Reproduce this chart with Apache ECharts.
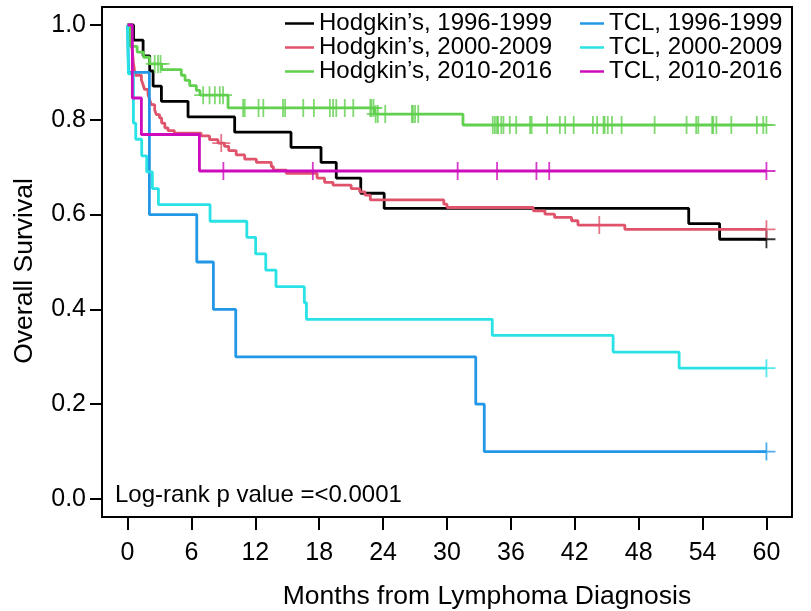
<!DOCTYPE html>
<html>
<head>
<meta charset="utf-8">
<script src="https://cdn.jsdelivr.net/npm/echarts@6/dist/echarts.min.js"></script>
<style>
  html, body { margin: 0; padding: 0; background: #fff; }
  #main { width: 811px; height: 611px; }
</style>
</head>
<body>
<div id="main"></div>
<script>
// Kaplan-Meier curves: months, survival, censor times
var hodg9699Months = [0, 0.56, 1.46, 2.08, 2.4, 3.18, 5.68, 10.06, 15.35, 18.17, 19.6, 21.9, 24.1, 52.7, 55.6, 60];
var hodg9699Surv   = [1, 0.968, 0.935, 0.903, 0.871, 0.839, 0.806, 0.774, 0.742, 0.710, 0.677, 0.645, 0.613, 0.581, 0.548, 0.548];
var hodg9699Censor = [60];

var hodg0009Months = [0, 0.35, 0.45, 0.55, 0.65, 0.75, 1.3, 1.46, 1.6, 1.92, 2.08, 2.24, 2.55, 2.7, 3.0, 3.2, 3.5, 3.8, 4.4,
                      6.9, 7.7, 8.5, 9.1, 9.5, 10.2, 11.0, 12.1, 13.5, 13.7, 14.9, 17.8, 18.5, 19.3, 21.0, 21.8, 22.3, 22.8,
                      29.7, 30.0, 38.1, 39.2, 40.1, 41.7, 42.3, 46.7, 60];
var hodg0009Surv   = [1, 0.97, 0.945, 0.92, 0.905, 0.894, 0.884, 0.874, 0.864, 0.853, 0.842, 0.832, 0.821, 0.811, 0.804, 0.793, 0.783, 0.777, 0.772,
                      0.766, 0.758, 0.751, 0.744, 0.735, 0.726, 0.717, 0.710, 0.701, 0.694, 0.687, 0.677, 0.668, 0.662, 0.655, 0.648, 0.641, 0.631,
                      0.622, 0.615, 0.608, 0.601, 0.594, 0.587, 0.578, 0.569, 0.569];
var hodg0009Censor = [8.8, 44.3, 60];

var hodg1016Months = [0, 0.23, 0.9, 1.5, 2.08, 3.2, 5.05, 5.4, 5.84, 6.46, 6.8, 9.44, 23.2, 31.5, 60];
var hodg1016Surv   = [1, 0.955, 0.943, 0.932, 0.918, 0.906, 0.894, 0.883, 0.872, 0.862, 0.852, 0.825, 0.812, 0.789, 0.789];
var hodg1016Censor = [2.55, 2.86, 3.1, 7.1, 7.7, 8.2, 8.66, 8.97, 10.85, 11.0, 12.3, 12.75, 14.6, 14.8, 16.5, 17.5,
                      19.0, 19.3, 19.6, 20.4, 21.2, 22.8, 22.9, 23.1, 23.3, 23.5, 24.2, 26.7, 26.8, 27.0, 27.3,
                      34.3, 34.5, 34.7, 34.8, 35.1, 35.3, 35.9, 36.5, 37.8, 37.95, 39.4, 40.6, 41.1, 41.9, 43.7, 44.1,
                      44.7, 44.8, 45.1, 45.5, 46.4, 49.5, 52.5, 53.4, 53.6, 54.9, 55.0, 55.3, 56.7, 59.1, 59.7, 60];

var tcl9699Months = [0, 0.1, 2.05, 6.5, 8.06, 10.16, 32.7, 33.5, 60];
var tcl9699Surv   = [1, 0.9, 0.6, 0.5, 0.4, 0.3, 0.2, 0.1, 0.1];
var tcl9699Censor = [60];

var tcl0009Months = [0, 0.08, 0.55, 0.77, 1.33, 1.8, 2.33, 2.9, 7.75, 11.2, 12.03, 12.98, 13.94, 16.6, 16.8, 34.25, 45.6, 51.8, 60];
var tcl0009Surv   = [1, 0.897, 0.793, 0.759, 0.724, 0.690, 0.655, 0.621, 0.586, 0.552, 0.517, 0.483, 0.448, 0.414, 0.379, 0.345, 0.310, 0.276, 0.276];
var tcl0009Censor = [60];

var tcl1016Months = [0, 0.45, 1.3, 6.75, 60];
var tcl1016Surv   = [1, 0.846, 0.769, 0.692, 0.692];
var tcl1016Censor = [9.0, 17.4, 31.0, 34.7, 38.4, 39.6, 60];

var groupNames = ['Hodgkin\u2019s, 1996-1999', 'Hodgkin\u2019s, 2000-2009', 'Hodgkin\u2019s, 2010-2016',
                  'TCL, 1996-1999', 'TCL, 2000-2009', 'TCL, 2010-2016'];
var groupColors = ['#000000', '#DF536B', '#61D04F', '#2297E6', '#28E2E5', '#CD0BBC'];

var xTicks = [0, 6, 12, 18, 24, 30, 36, 42, 48, 54, 60];
var yTicks = [0, 0.2, 0.4, 0.6, 0.8, 1.0];

var FONT = 'Liberation Sans, Arial, Helvetica, sans-serif';
var PLUS = 'path://M9,0 h2 v9 h9 v2 h-9 v9 h-2 v-9 h-9 v-2 h9 z';

var groups = [
    [hodg9699Months, hodg9699Surv, hodg9699Censor],
    [hodg0009Months, hodg0009Surv, hodg0009Censor],
    [hodg1016Months, hodg1016Surv, hodg1016Censor],
    [tcl9699Months, tcl9699Surv, tcl9699Censor],
    [tcl0009Months, tcl0009Surv, tcl0009Censor],
    [tcl1016Months, tcl1016Surv, tcl1016Censor]
];

// survival value of a step curve at time x
function survAt(months, surv, x) {
    var v = surv[0];
    for (var i = 0; i < months.length; i++) {
        if (months[i] <= x) v = surv[i];
    }
    return v;
}

var series = [];
groups.forEach(function (g, k) {
    var color = groupColors[k];
    series.push({
        name: groupNames[k],
        type: 'line',
        step: 'end',
        color: color,
        showSymbol: false,
        symbol: 'none',
        lineStyle: { color: color, width: 2.8 },
        data: g[0].map(function (m, i) { return [m, g[1][i]]; }),
        z: 2 + k
    });
    series.push({
        name: groupNames[k] + ' censored',
        type: 'scatter',
        symbol: PLUS,
        symbolSize: 18,
        itemStyle: { color: color },
        silent: true,
        data: g[2].map(function (c) { return [c, survAt(g[0], g[1], c)]; }),
        z: 2 + k
    });
});

var legendBase = {
    orient: 'vertical',
    top: 11.5,
    padding: 0,
    itemGap: 0,
    icon: 'rect',
    itemHeight: 2.5,
    selectedMode: false,
    textStyle: { fontSize: 24, lineHeight: 23.3, color: '#000', fontFamily: FONT }
};

var myChart = echarts.init(document.getElementById('main'));
var option = {
    animation: false,
    backgroundColor: '#fff',
    grid: {
        left: 102,
        top: 7,
        width: 690,
        height: 510,
        show: true,
        borderColor: '#000',
        borderWidth: 2
    },
    legend: [
        Object.assign({}, legendBase, { left: 285, itemWidth: 29, data: groupNames.slice(0, 3) }),
        Object.assign({}, legendBase, { left: 580, itemWidth: 24, data: groupNames.slice(3) })
    ],
    xAxis: {
        type: 'value',
        min: -2.4,
        max: 62.4,
        axisLine: { show: false, onZero: false },
        splitLine: { show: false },
        axisTick: { show: true, customValues: xTicks, length: 13, lineStyle: { color: '#000', width: 2 } },
        axisLabel: { customValues: xTicks, fontSize: 25, color: '#000', margin: 24, fontFamily: FONT }
    },
    yAxis: {
        type: 'value',
        min: -0.038,
        max: 1.038,
        axisLine: { show: false, onZero: false },
        splitLine: { show: false },
        axisTick: { show: true, customValues: yTicks, length: 12, lineStyle: { color: '#000', width: 2 } },
        axisLabel: {
            customValues: yTicks, fontSize: 25, color: '#000', margin: 16, fontFamily: FONT,
            formatter: function (v) { return v.toFixed(1); }
        }
    },
    graphic: [
        {
            type: 'text', x: 487, y: 597,
            style: { text: 'Months from Lymphoma Diagnosis', fill: '#000', font: '26.5px ' + FONT,
                     textAlign: 'center', textVerticalAlign: 'middle', align: 'center', verticalAlign: 'middle' }
        },
        {
            type: 'text', x: 25, y: 271, rotation: Math.PI / 2,
            style: { text: 'Overall Survival', fill: '#000', font: '26.5px ' + FONT,
                     textAlign: 'center', textVerticalAlign: 'middle', align: 'center', verticalAlign: 'middle' }
        },
        {
            type: 'text', x: 115, y: 495,
            style: { text: 'Log-rank p value =<0.0001', fill: '#000', font: '24px ' + FONT,
                     textAlign: 'left', textVerticalAlign: 'middle', align: 'left', verticalAlign: 'middle' }
        }
    ],
    series: series
};

myChart.setOption(option);
</script>
</body>
</html>
